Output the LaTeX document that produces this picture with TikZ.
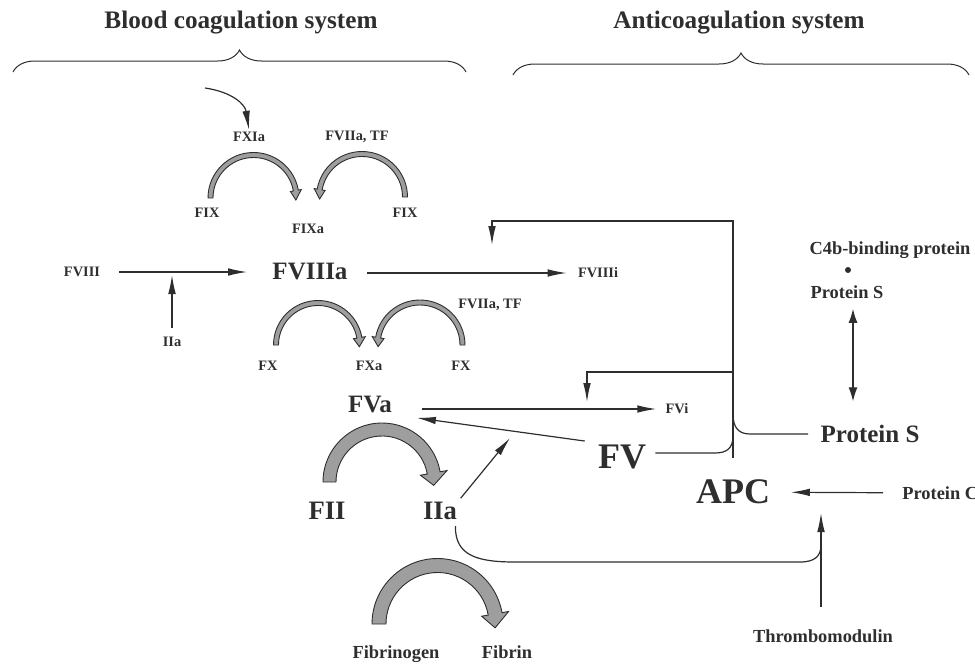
\documentclass[tikz,border=0pt]{standalone}
\usepackage{fontspec}
\setmainfont{Liberation Serif}
\usetikzlibrary{arrows.meta,decorations.pathreplacing}
\definecolor{ink}{HTML}{2E2E2E}
\definecolor{shade}{HTML}{9E9E9E}

% bent fat arrow: centre, radius, half band, half head, head length, direction
\newcommand{\turnarrow}[6]{%
  \begin{scope}[shift={#1},xscale=#6]
    \filldraw[turn] (180:{#2+#3}) arc[start angle=180,end angle=350,radius={#2+#3}]
      -- (350:{#2+#4}) -- ({0.985*#2},{-0.174*#2+#5})
      -- (350:{#2-#4}) -- (350:{#2-#3})
      arc[start angle=350,end angle=180,radius={#2-#3}] -- cycle;
  \end{scope}}

\begin{document}
\begin{tikzpicture}[x=0.5pt,y=-0.5pt,
  every node/.style={inner sep=1pt,text=ink},
  heading/.style={font=\fontsize{12.6}{14}\selectfont\bfseries},
  factor/.style={font=\fontsize{12.5}{14}\selectfont\bfseries},
  prime/.style={font=\fontsize{13.3}{15}\selectfont\bfseries},
  major/.style={font=\fontsize{18}{20}\selectfont\bfseries},
  agent/.style={font=\fontsize{9.2}{11}\selectfont\bfseries},
  minor/.style={font=\fontsize{7.2}{8}\selectfont\bfseries},
  dot/.style={circle,fill=ink,inner sep=0pt,minimum size=3pt},
  line/.style={draw=ink,line width=0.6pt},
  arr/.style={line,-{Latex[length=9.5pt,width=3.8pt]}},
  darr/.style={line,{Latex[length=7pt,width=4.5pt]}-{Latex[length=7pt,width=4.5pt]}},
  turn/.style={fill=shade,draw=ink,line width=0.45pt},
  bracket/.style={draw=ink,line width=0.5pt,decorate,decoration={brace,amplitude=11pt}}]
\useasboundingbox (0,0) rectangle (975,664);

% headings
\node[heading] (hcoag) at (241,23) {Blood coagulation system};
\node[heading] (hanti) at (739,23) {Anticoagulation system};
\draw[bracket] (13,72) -- (466,72);
\draw[bracket] (513,75) -- (969,75);

% coagulation side
\node[minor] (fxia) at (249,137) {FXIa};
\node[minor] (tf1) at (357,137) {FVIIa, TF};
\node[minor] (fix1) at (207,213) {FIX};
\node[minor] (fix2) at (405,213) {FIX};
\node[minor] (fixa) at (308,229) {FIXa};
\node[minor] (fviii) at (82,272) {FVIII};
\node[factor] (fviiia) at (310,272) {FVIIIa};
\node[minor] (fviiii) at (598,273) {FVIIIi};
\node[minor] (iia1) at (172,342) {IIa};
\node[minor] (tf2) at (490,305) {FVIIa, TF};
\node[minor] (fx1) at (268,366) {FX};
\node[minor] (fxa) at (369,366) {FXa};
\node[minor] (fx2) at (461,366) {FX};
\node[factor] (fva) at (370,404) {FVa};
\node[minor] (fvi) at (677,409) {FVi};
\node[major] (fv) at (622,457) {FV};
\node[prime] (fii) at (327,511) {FII};
\node[prime] (iia) at (440,511) {IIa};
\node[agent] (fbg) at (396,654) {Fibrinogen};
\node[agent] (fbn) at (507,652) {Fibrin};

% anticoagulation side
\node[major] (apc) at (733,492) {APC};
\node[agent] (c4b) at (890,250) {C4b-binding protein};
\node[dot] (bind) at (848,270) {};
\node[agent] (ps1) at (847,292) {Protein S};
\node[factor] (ps2) at (870,434) {Protein S};
\node[agent,anchor=west] (pc) at (900,493) {Protein C};
\node[agent] (tm) at (823,636) {Thrombomodulin};

\coordinate (xiastart) at (205,88);
\coordinate (hit) at (510,438);
\coordinate (fb8) at (492,221);
\coordinate (fb8tip) at (492,245);
\coordinate (fb5) at (587,372);
\coordinate (fb5tip) at (587,402);
\coordinate (tmtip) at (821,513);
\coordinate (tmjoin) at (821,545);

% fat arrows
\turnarrow{(253.5,198)}{43}{2.5}{5.5}{9.5}{1}
\turnarrow{(362,197)}{43}{2.5}{5.5}{9.5}{-1}
\turnarrow{(318,345)}{42}{2.5}{6}{9}{1}
\turnarrow{(420,345)}{42.5}{2.5}{6}{9}{-1}
\turnarrow{(382,482)}{52.5}{6.5}{13.5}{12.5}{1}
\turnarrow{(437.5,624)}{58.5}{7}{13.7}{14}{1}

% connectors
\draw[arr] (xiastart) .. controls (232,92) and (245,104) .. (fxia.north);
\draw[arr,shorten <=8.25pt,shorten >=11.5pt] (fviii) -- (fviiia);
\draw[arr,shorten <=3.5pt,shorten >=1.5pt] (iia1) -- (iia1 |- fviii);
\draw[arr,shorten <=8.75pt,shorten >=4.5pt] (fviiia.east |- fviiii.west) -- (fviiii.west);
\draw[arr,shorten <=14pt,shorten >=3.5pt] (fva.east |- fvi.west) -- (fvi.west);
\draw[arr,shorten <=5.5pt,shorten >=11.5pt] (fv.north west) -- (fva.south east);
\draw[arr,shorten <=1pt] (iia.north east) -- (hit);
\draw[line] ([xshift=-2pt,yshift=-2pt]iia.south east) .. controls (455,556) and (478,562) .. (515,562)
  -- (800,562) .. controls (815,562) and (821,556) .. (tmjoin);
\draw[arr,shorten <=10pt] (tmtip |- tm.north) -- (tmtip);
\draw[arr,shorten <=8.5pt,shorten >=9.25pt] (pc) -- (apc);
\draw[darr,shorten <=4pt,shorten >=10.75pt] ([xshift=3pt]ps1.south) -- ([xshift=3pt]ps1.south |- ps2.north);
\draw[arr,shorten <=10pt] (apc.north) |- (fb8) -- (fb8tip);
\draw[arr] (apc.north |- fb5) -- (fb5) -- (fb5tip);
\draw[line,shorten <=3.5pt] ([yshift=2pt]fv.east) -- (715,453) .. controls (727,453) and (733,448) .. (733,436);
\draw[line,shorten <=5pt] (ps2.west) -- (750,434) .. controls (739,434) and (733,428) .. (733,414);
\end{tikzpicture}
\end{document}
